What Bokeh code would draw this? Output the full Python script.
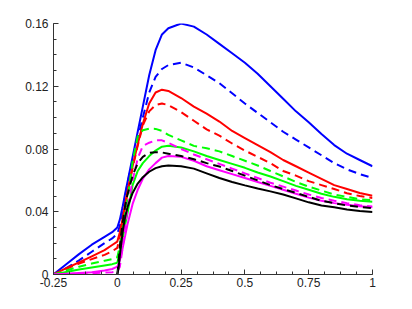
from bokeh.plotting import figure
from bokeh.models import Range1d, FixedTicker
from bokeh.embed import file_html
from bokeh.resources import INLINE

# shared abscissa for curves starting at x = -0.25
X = [-0.25, -0.2, -0.15, -0.1, -0.05, -0.02, 0.0, 0.01, 0.02, 0.03, 0.04, 0.06, 0.08, 0.1,
     0.125, 0.15, 0.175, 0.2, 0.25, 0.3, 0.35, 0.4, 0.45, 0.5, 0.55, 0.6, 0.65, 0.7,
     0.75, 0.8, 0.85, 0.9, 0.95, 1.0]
# abscissa for the black curves starting at x = 0
XB = [0.0, 0.005, 0.01, 0.02, 0.03, 0.04, 0.06, 0.08, 0.1, 0.125, 0.15, 0.175, 0.2, 0.25,
      0.3, 0.35, 0.4, 0.45, 0.5, 0.55, 0.6, 0.65, 0.7, 0.75, 0.8, 0.85, 0.9, 0.95, 1.0]

blue_solid = [0, 0.0065, 0.013, 0.019, 0.024, 0.027, 0.030, 0.035, 0.0425, 0.051, 0.059,
              0.075, 0.091, 0.107, 0.127, 0.143, 0.153, 0.157, 0.160, 0.158, 0.153, 0.147,
              0.1410, 0.135, 0.128, 0.120, 0.112, 0.104, 0.097, 0.0895, 0.0825, 0.077, 0.073, 0.069]
blue_dashed = [0, 0.004, 0.009, 0.0145, 0.020, 0.023, 0.026, 0.031, 0.038, 0.049, 0.058,
               0.073, 0.087, 0.100, 0.116, 0.126, 0.131, 0.1335, 0.135, 0.132, 0.127, 0.122,
               0.1155, 0.109, 0.103, 0.097, 0.091, 0.086, 0.081, 0.076, 0.071, 0.067, 0.064, 0.0615]
red_solid = [0, 0.004, 0.0077, 0.0115, 0.0155, 0.0188, 0.021, 0.027, 0.035, 0.044, 0.053,
             0.069, 0.083, 0.096, 0.109, 0.116, 0.1178, 0.117, 0.1125, 0.107, 0.1025, 0.0975,
             0.0915, 0.087, 0.0825, 0.078, 0.073, 0.069, 0.065, 0.061, 0.057, 0.0545, 0.052, 0.0502]
red_dashed = [0, 0.0035, 0.007, 0.0098, 0.0125, 0.0148, 0.017, 0.024, 0.033, 0.043, 0.052,
              0.068, 0.082, 0.095, 0.104, 0.108, 0.109, 0.108, 0.1035, 0.098, 0.0925, 0.0885,
              0.0835, 0.079, 0.075, 0.071, 0.066, 0.063, 0.0595, 0.057, 0.0545, 0.0518, 0.050, 0.0488]
green_solid = [0, 0.0016, 0.0032, 0.0045, 0.0058, 0.0066, 0.0075, 0.014, 0.022, 0.031, 0.039,
               0.057, 0.066, 0.071, 0.0755, 0.079, 0.0815, 0.082, 0.081, 0.0785, 0.0755, 0.073,
               0.0705, 0.068, 0.065, 0.0625, 0.0595, 0.0565, 0.054, 0.0515, 0.0495, 0.048, 0.047, 0.0463]
green_dashed = [0, 0.0025, 0.005, 0.007, 0.0088, 0.0098, 0.011, 0.018, 0.028, 0.038, 0.048,
                0.072, 0.088, 0.092, 0.093, 0.0928, 0.0915, 0.089, 0.0855, 0.082, 0.0805, 0.0785,
                0.0755, 0.0725, 0.0695, 0.066, 0.0625, 0.059, 0.056, 0.0535, 0.051, 0.0495, 0.048, 0.0474]
magenta_solid = [0, 0.0005, 0.001, 0.0015, 0.0025, 0.0035, 0.005, 0.009, 0.016, 0.024, 0.032,
                 0.045, 0.054, 0.061, 0.067, 0.071, 0.0745, 0.0755, 0.075, 0.0725, 0.069, 0.0665,
                 0.064, 0.0615, 0.059, 0.0565, 0.054, 0.0515, 0.049, 0.047, 0.0455, 0.0445, 0.0435, 0.0428]
magenta_dashed = [0, 0.0003, 0.0005, 0.0008, 0.0012, 0.0015, 0.002, 0.005, 0.016, 0.030, 0.042,
                  0.060, 0.074, 0.082, 0.084, 0.0855, 0.0855, 0.084, 0.080, 0.0765, 0.0735, 0.0705,
                  0.0675, 0.0645, 0.0615, 0.0585, 0.056, 0.0535, 0.051, 0.0488, 0.047, 0.0455, 0.0442, 0.0433]
black_solid = [0, 0.004, 0.012, 0.026, 0.036, 0.043, 0.052, 0.058, 0.062, 0.0655, 0.0678, 0.069,
               0.0695, 0.069, 0.0675, 0.0645, 0.0615, 0.059, 0.0568, 0.0548, 0.053, 0.051, 0.0485,
               0.046, 0.044, 0.0428, 0.0415, 0.0405, 0.0399]
black_dashed = [0, 0.008, 0.018, 0.032, 0.043, 0.051, 0.063, 0.071, 0.075, 0.0775, 0.078, 0.0778,
                0.077, 0.0755, 0.0735, 0.071, 0.0688, 0.066, 0.063, 0.060, 0.057, 0.0545, 0.052,
                0.0495, 0.047, 0.0455, 0.044, 0.043, 0.0423]

x_ticks = [-0.25, 0, 0.25, 0.5, 0.75, 1]
x_labels = ["-0.25", "0", "0.25", "0.5", "0.75", "1"]
y_ticks = [0, 0.04, 0.08, 0.12, 0.16]
y_labels = ["0", "0.04", "0.08", "0.12", "0.16"]

p = figure(width=404, height=301, output_backend="svg", toolbar_location=None,
           x_range=Range1d(-0.25, 1), y_range=Range1d(0, 0.16),
           min_border_left=53, min_border_right=32, min_border_top=23, min_border_bottom=27)
p.outline_line_color = None
p.xgrid.visible = False
p.ygrid.visible = False
p.background_fill_color = "white"
p.border_fill_color = "white"

series = [
    (X, blue_solid, "#0000ff", "solid"),
    (X, blue_dashed, "#0000ff", "8 5"),
    (X, red_solid, "#ff0000", "solid"),
    (X, red_dashed, "#ff0000", "8 5"),
    (X, green_solid, "#00ff00", "solid"),
    (X, green_dashed, "#00ff00", "8 5"),
    (X, magenta_solid, "#ff00ff", "solid"),
    (X, magenta_dashed, "#ff00ff", "8 5"),
    (XB, black_solid, "#000000", "solid"),
    (XB, black_dashed, "#000000", "8 5"),
]
for xs, ys, col, dash in series:
    p.line(xs, ys, line_color=col, line_width=2, line_dash=dash, line_join="round")

x_minor = [-0.25 + 0.0625 * i for i in range(21)]
y_minor = [0.01 * i for i in range(17)]
p.xaxis.ticker = FixedTicker(ticks=x_ticks, minor_ticks=x_minor)
p.yaxis.ticker = FixedTicker(ticks=y_ticks, minor_ticks=y_minor)
p.xaxis.major_label_overrides = {t: l for t, l in zip(x_ticks, x_labels)}
p.yaxis.major_label_overrides = {t: l for t, l in zip(y_ticks, y_labels)}

for ax in (p.xaxis, p.yaxis):
    ax.major_tick_in = 5
    ax.major_tick_out = 0
    ax.minor_tick_in = 3
    ax.minor_tick_out = 0
    ax.axis_line_color = "#333333"
    ax.major_tick_line_color = "#333333"
    ax.minor_tick_line_color = "#333333"
    ax.major_label_text_font = "Liberation Sans"
    ax.major_label_text_font_size = "12px"
    ax.major_label_text_color = "#222222"
p.xaxis.major_label_standoff = 3
p.yaxis.major_label_standoff = 5

open("out.html", "w").write(file_html(p, INLINE))
